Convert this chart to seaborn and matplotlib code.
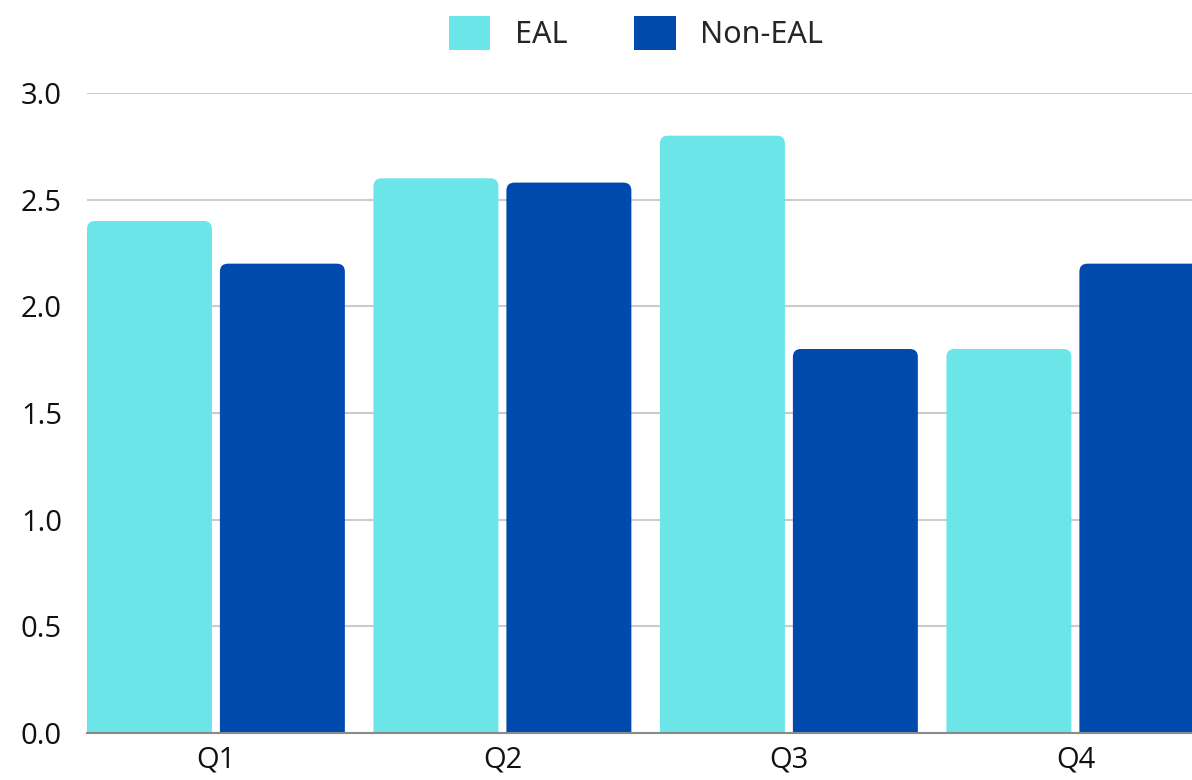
import matplotlib
matplotlib.use("Agg")
import matplotlib.pyplot as plt
from matplotlib.patches import FancyBboxPatch, Patch
import pandas as pd
import seaborn as sns

quarters = ["Q1", "Q2", "Q3", "Q4"]
eal = [2.4, 2.6, 2.8, 1.8]
non_eal = [2.2, 2.58, 1.8, 2.2]
groups = ["EAL", "Non-EAL"]
y_ticks = [0.0, 0.5, 1.0, 1.5, 2.0, 2.5, 3.0]

colors = {"EAL": "#6CE5E8", "Non-EAL": "#004AAD"}

df = pd.DataFrame({
    "quarter": quarters * 2,
    "group": [groups[0]] * len(quarters) + [groups[1]] * len(quarters),
    "value": eal + non_eal,
})

sns.set_theme(style="white")
plt.rcParams["font.family"] = ["Open Sans", "DejaVu Sans"]

fig = plt.figure(figsize=(11.92, 7.8), dpi=100)
ax = fig.add_axes([87 / 1192, 47 / 780, 1 - 87 / 1192, (733 - 93) / 780])

sns.barplot(data=df, x="quarter", y="value", hue="group", order=quarters,
            hue_order=groups, palette=colors, saturation=1, width=0.928, gap=0.06,
            ax=ax, legend=False, errorbar=None, zorder=3)

ax.set_xlim(-0.45, 3.407)
ax.set_ylim(0, 3.0)

# Replace the plain rectangles with top-rounded bars
px_x = ax.get_position().width * 1192 / (3.407 + 0.45)
px_y = ax.get_position().height * 780 / 3.0
radius_px = 8
aspect = px_x / px_y
bars = [p for p in ax.patches]
for b in bars:
    x0, w, h = b.get_x(), b.get_width(), b.get_height()
    fc = b.get_facecolor()
    b.remove()
    r = radius_px / px_x
    fb = FancyBboxPatch((x0, -0.2), w, h + 0.2,
                        boxstyle=f"round,pad=0,rounding_size={r}",
                        mutation_aspect=aspect, facecolor=fc,
                        edgecolor="none", zorder=3)
    ax.add_patch(fb)

ax.set_yticks(y_ticks)
ax.set_yticklabels([f"{t:.1f}" for t in y_ticks])
ax.yaxis.grid(True, color="#cccccc", linewidth=1.5, zorder=0)
ax.xaxis.grid(False)
ax.set_axisbelow(True)
ax.set_xlabel("")
ax.set_ylabel("")

for s in ["left", "right", "top"]:
    ax.spines[s].set_visible(False)
ax.spines["bottom"].set_color("#8a8a8a")
ax.spines["bottom"].set_linewidth(1.5)
ax.spines["bottom"].set_zorder(5)

ax.tick_params(axis="y", length=0, pad=18, labelsize=21, labelcolor="#111111")
ax.tick_params(axis="x", length=0, pad=9, labelsize=21, labelcolor="#111111")

handles = [Patch(facecolor=colors[g], edgecolor="none", label=g) for g in groups]
fig.legend(handles=handles, loc="center", bbox_to_anchor=(636 / 1192, 1 - 33 / 780),
           ncol=2, frameon=False, handlelength=1.35, handleheight=1.35,
           handletextpad=0.8, columnspacing=2.2,
           prop={"family": ["Noto Sans", "DejaVu Sans"], "size": 22})

fig.savefig("out.png", dpi=100)
